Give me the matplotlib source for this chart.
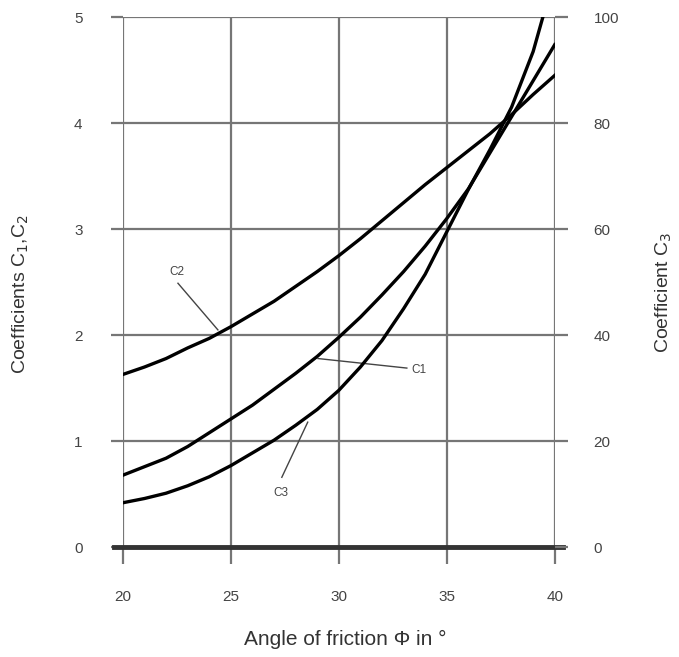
import matplotlib.pyplot as plt

plt.rcParams['font.family'] = ['Liberation Sans', 'DejaVu Sans']

# data
phi = [20, 21, 22, 23, 24, 25, 26, 27, 28, 29, 30, 31, 32, 33, 34, 35, 36, 37, 38, 39, 40]
c1 = [0.68, 0.76, 0.84, 0.95, 1.08, 1.21, 1.34, 1.49, 1.64, 1.80, 1.98,
      2.17, 2.38, 2.60, 2.84, 3.10, 3.38, 3.72, 4.06, 4.40, 4.74]
c2 = [1.63, 1.70, 1.78, 1.88, 1.97, 2.08, 2.20, 2.32, 2.46, 2.60, 2.75,
      2.91, 3.08, 3.25, 3.42, 3.58, 3.74, 3.90, 4.08, 4.27, 4.45]
phi3 = [20, 21, 22, 23, 24, 25, 26, 27, 28, 29, 30, 31, 32, 33, 34, 35, 36, 37, 38, 39, 39.45]
c3 = [8.4, 9.2, 10.2, 11.6, 13.3, 15.4, 17.8, 20.2, 23.0, 26.0, 29.6,
      34.0, 39.0, 45.0, 51.5, 59.5, 67.5, 75.0, 83.0, 93.5, 100]

xticks = [20, 25, 30, 35, 40]
left_ticks = [0, 1, 2, 3, 4, 5]
right_ticks = [0, 20, 40, 60, 80, 100]

grid_col = '#767676'
text_col = '#444444'
label_col = '#333333'

fig = plt.figure(figsize=(6.79, 6.57), dpi=100)
ax = fig.add_axes([0.181, 0.167, 0.636, 0.807])
ax2 = ax.twinx()

ax.set_xlim(20, 40)
ax.set_ylim(0, 5)
ax2.set_ylim(0, 100)

for a in (ax, ax2):
    for s in a.spines.values():
        s.set_visible(False)

ax.grid(True, color=grid_col, linewidth=1.6)
ax.set_axisbelow(True)
ax.axhline(0, color='#333333', linewidth=3.5, xmin=-0.02, xmax=1.02, clip_on=False, zorder=3)

ax.set_xticks(xticks)
ax.set_yticks(left_ticks)
ax2.set_yticks(right_ticks)
ax.tick_params(axis='x', length=12, width=1.6, color=grid_col, pad=19,
               labelsize=11, labelcolor=text_col)
ax.tick_params(axis='y', length=9, width=1.6, color=grid_col, pad=20,
               labelsize=11, labelcolor=text_col)
ax2.tick_params(axis='y', length=9, width=1.6, color=grid_col, pad=19,
                labelsize=11, labelcolor=text_col)

ax.plot(phi, c1, color='black', linewidth=2.4, zorder=4)
ax.plot(phi, c2, color='black', linewidth=2.4, zorder=4)
ax2.plot(phi3, c3, color='black', linewidth=2.4, zorder=4)

# curve labels with leader lines
ax.plot([22.55, 24.4], [2.49, 2.05], color=text_col, linewidth=1, zorder=4)
ax.text(22.5, 2.6, 'C2', fontsize=8.5, color=text_col, ha='center', va='center')
ax.plot([29.03, 33.15], [1.78, 1.69], color=text_col, linewidth=1, zorder=4)
ax.text(33.7, 1.67, 'C1', fontsize=8.5, color=text_col, ha='center', va='center')
ax.plot([27.36, 28.56], [0.66, 1.18], color=text_col, linewidth=1, zorder=4)
ax.text(27.3, 0.51, 'C3', fontsize=8.5, color=text_col, ha='center', va='center')

ax.set_xlabel('Angle of friction \u03a6 in \u00b0', fontsize=15, color=label_col)
ax.xaxis.set_label_coords(0.516, -0.155)
ax.set_ylabel('Coefficients C$_1$,C$_2$', fontsize=14, color=label_col)
ax.yaxis.set_label_coords(-0.212, 0.477)
ax2.set_ylabel('Coefficient C$_3$', fontsize=14, color=label_col)
ax2.yaxis.set_label_coords(1.228, 0.481)

fig.savefig('out.png', dpi=100)
